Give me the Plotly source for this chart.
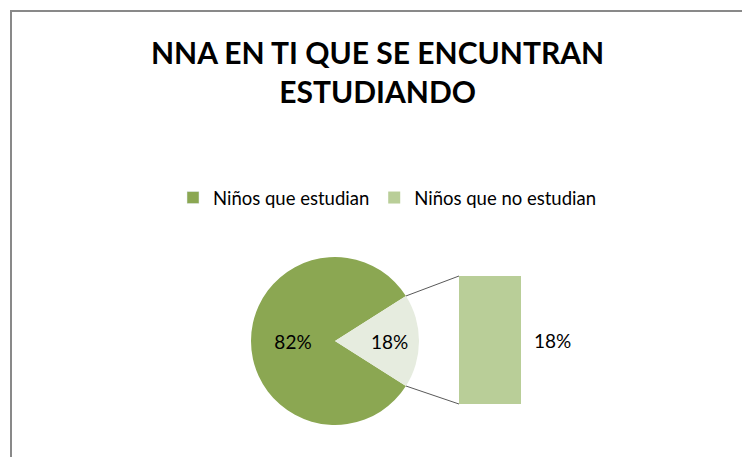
import math
import plotly.graph_objects as go

# datos
titulo = "NNA EN TI QUE SE ENCUNTRAN<br>ESTUDIANDO"
categorias = ["Niños que estudian", "Niños que no estudian"]
porcentajes = [82, 18]
colores_pie = ["#8BA752", "#E6ECDF"]
color_barra = "#B9CE98"

W, H = 750, 457
OFF = 8  # margen del body en la pagina
# posiciones en px (desde arriba) de la imagen de referencia
cx, cy, r = 335, 341, 84
bx0, bx1, by0, by1 = 459, 521, 276, 404


def px(x):
    return (x - OFF) / W


def py(y):
    return 1 - (y - OFF) / H


fig = go.Figure()

# entrada de leyenda para los que estudian
fig.add_trace(go.Bar(
    x=[categorias[1]], y=[None],
    name=categorias[0],
    marker_color=colores_pie[0],
    xaxis="x", yaxis="y",
))

# barra de desglose
fig.add_trace(go.Bar(
    x=[categorias[1]],
    y=[porcentajes[1]],
    name=categorias[1],
    marker_color=color_barra,
    marker_line_width=0,
    xaxis="x", yaxis="y",
    hoverinfo="y",
))

# torta
rot = 90 - (porcentajes[0] + porcentajes[1] / 2) * 3.6
fig.add_trace(go.Pie(
    labels=categorias,
    values=porcentajes,
    sort=False,
    direction="clockwise",
    rotation=rot % 360,
    marker=dict(colors=colores_pie, line=dict(width=0)),
    textinfo="percent",
    textposition="inside",
    insidetextorientation="horizontal",
    textfont=dict(family="Lato", size=19, color="black"),
    domain=dict(x=[px(cx - r), px(cx + r)], y=[py(cy + r), py(cy - r)]),
    showlegend=False,
))

# lineas conectoras
medio = math.radians(porcentajes[1] * 3.6 / 2)
shapes = []
for sgn, yb in [(1, by0), (-1, by1)]:
    x0 = cx + r * math.cos(medio)
    y0 = cy - sgn * r * math.sin(medio)
    shapes.append(dict(type="line", xref="paper", yref="paper",
                       x0=px(x0), y0=py(y0), x1=px(bx0), y1=py(yb),
                       line=dict(color="#595959", width=1)))

# marco
shapes.append(dict(type="rect", xref="paper", yref="paper",
                   x0=px(11), y0=py(11), x1=px(W + 30), y1=py(H + 30),
                   line=dict(color="#898989", width=2)))

fig.update_layout(
    width=W, height=H,
    margin=dict(l=0, r=0, t=0, b=0),
    paper_bgcolor="white",
    plot_bgcolor="white",
    barmode="overlay",
    bargap=0,
    shapes=shapes,
    xaxis=dict(domain=[px(bx0), px(bx1)], type="category", range=[-0.5, 0.5],
               visible=False, fixedrange=True),
    yaxis=dict(domain=[py(by1), py(by0)], range=[0, porcentajes[1]],
               visible=False, fixedrange=True),
    legend=dict(orientation="h", x=px(387), xanchor="center",
                y=py(198), yanchor="middle",
                font=dict(family="Lato", size=18.5, color="black"),
                traceorder="normal"),
    annotations=[
        dict(text=f"<b>{titulo}</b>", xref="paper", yref="paper", x=px(377), y=py(71),
             xanchor="center", yanchor="middle", showarrow=False,
             font=dict(family="Lato", size=30, color="black")),
        dict(text=f"{porcentajes[1]}%", xref="x", yref="y", x=0.5,
             y=porcentajes[1] / 2, xanchor="left", xshift=11, showarrow=False,
             font=dict(family="Lato", size=19, color="black")),
    ],
)

fig.write_html("out.html")
